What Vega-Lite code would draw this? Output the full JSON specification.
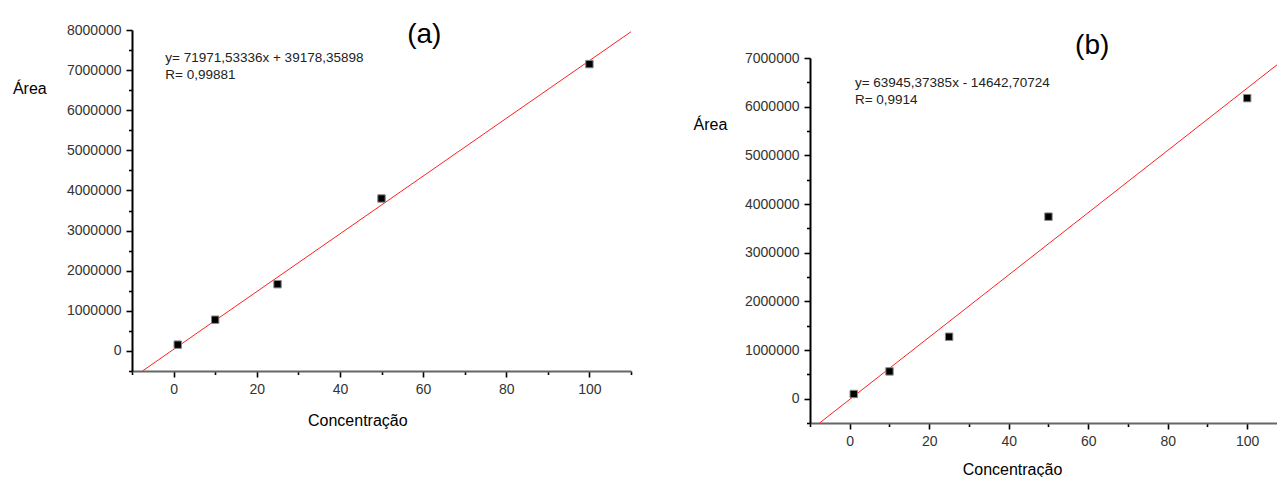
{
  "$schema": "https://vega.github.io/schema/vega-lite/v6.json",
  "padding": {"left": 12, "top": 20, "right": 0, "bottom": 0},
  "config": {
    "view": {"stroke": null},
    "font": "Liberation Sans",
    "axis": {
      "grid": false,
      "labelFont": "Liberation Sans",
      "labelFontSize": 14,
      "labelColor": "#333333",
      "labelPadding": 5,
      "labelFlush": false,
      "labelOverlap": false,
      "titleFont": "Liberation Sans",
      "titleFontSize": 16,
      "titleFontWeight": "normal",
      "titleColor": "#000000",
      "tickColor": "#000000",
      "tickWidth": 1.6,
      "domainWidth": 2
    }
  },
  "datasets": {
    "ptsA": [
      {"conc": 1, "area": 157000},
      {"conc": 10, "area": 779000},
      {"conc": 25, "area": 1664000},
      {"conc": 50, "area": 3800000},
      {"conc": 100, "area": 7150000}
    ],
    "fitA": [
      {"conc": -7.49, "area": -500000},
      {"conc": 110, "area": 7956000}
    ],
    "txtA": [
      {"conc": -2, "area": 7300000, "label": "y= 71971,53336x + 39178,35898"},
      {"conc": -2, "area": 6880000, "label": "R= 0,99881"}
    ],
    "tagA": [
      {"conc": 60.3, "area": 7876000, "label": "(a)"}
    ],
    "ptsB": [
      {"conc": 1, "area": 96000},
      {"conc": 10, "area": 560000},
      {"conc": 25, "area": 1273000},
      {"conc": 50, "area": 3740000},
      {"conc": 100, "area": 6175000}
    ],
    "fitB": [
      {"conc": -7.59, "area": -500000},
      {"conc": 107.5, "area": 6859500}
    ],
    "txtB": [
      {"conc": 1.3, "area": 6495000, "label": "y= 63945,37385x - 14642,70724"},
      {"conc": 1.3, "area": 6140000, "label": "R= 0,9914"}
    ],
    "tagB": [
      {"conc": 61, "area": 7250000, "label": "(b)"}
    ],
    "spacer": [{}]
  },
  "hconcat": [
    {
      "width": 499,
      "height": 341,
      "encoding": {
        "x": {
          "field": "conc", "type": "quantitative",
          "scale": {"domain": [-10, 110], "nice": false, "zero": false},
          "axis": {
            "values": [-10, 0, 10, 20, 30, 40, 50, 60, 70, 80, 90, 100, 110],
            "labelExpr": "datum.value % 20 === 0 ? datum.label : ''",
            "tickSize": {"condition": {"test": "datum.value % 20 === 0", "value": 6}, "value": 3.5},
            "domainColor": "#666666",
            "title": "Concentração",
            "titleX": 225.3, "titleY": 49,
            "titleAlign": "center", "titleBaseline": "middle"
          }
        },
        "y": {
          "field": "area", "type": "quantitative",
          "scale": {"domain": [-500000, 8000000], "nice": false, "zero": false},
          "axis": {
            "values": [-500000, 0, 500000, 1000000, 1500000, 2000000, 2500000, 3000000, 3500000, 4000000, 4500000, 5000000, 5500000, 6000000, 6500000, 7000000, 7500000, 8000000],
            "format": "d",
            "labelExpr": "datum.value % 1000000 === 0 ? datum.label : ''",
            "tickSize": {"condition": {"test": "datum.value % 1000000 === 0", "value": 6}, "value": 3.5},
            "domainColor": "#000000",
            "title": "Área",
            "titleAngle": 0,
            "titleX": -102.7, "titleY": 58.7,
            "titleAlign": "center", "titleBaseline": "middle"
          }
        }
      },
      "layer": [
        {"data": {"name": "fitA"}, "mark": {"type": "line", "color": "#ff2020", "strokeWidth": 1}},
        {"data": {"name": "ptsA"}, "mark": {"type": "square", "size": 55, "filled": true, "fill": "#000000", "stroke": "#8a8a8a", "strokeWidth": 1, "opacity": 1}},
        {"data": {"name": "txtA"}, "mark": {"type": "text", "align": "left", "baseline": "middle", "fontSize": 13.5, "font": "Liberation Sans", "color": "#222222"}, "encoding": {"text": {"field": "label"}}},
        {"data": {"name": "tagA"}, "mark": {"type": "text", "align": "center", "baseline": "middle", "fontSize": 28, "font": "Liberation Sans", "color": "#000000"}, "encoding": {"text": {"field": "label"}}}
      ]
    },
    {
      "spacing": 20,
      "bounds": "flush",
      "vconcat": [
        {
          "width": 467,
          "height": 7.7,
          "data": {"name": "spacer"},
          "mark": {"type": "text", "opacity": 0},
          "encoding": {}
        },
        {
          "width": 467,
          "height": 365,
          "encoding": {
            "x": {
              "field": "conc", "type": "quantitative",
              "scale": {"domain": [-10, 107.5], "nice": false, "zero": false},
              "axis": {
                "values": [-10, 0, 10, 20, 30, 40, 50, 60, 70, 80, 90, 100],
                "labelExpr": "datum.value % 20 === 0 ? datum.label : ''",
                "tickSize": {"condition": {"test": "datum.value % 20 === 0", "value": 6}, "value": 3.5},
                "domainColor": "#666666",
                "title": "Concentração",
                "titleX": 202, "titleY": 46,
                "titleAlign": "center", "titleBaseline": "middle"
              }
            },
            "y": {
              "field": "area", "type": "quantitative",
              "scale": {"domain": [-500000, 7000000], "nice": false, "zero": false},
              "axis": {
                "values": [-500000, 0, 500000, 1000000, 1500000, 2000000, 2500000, 3000000, 3500000, 4000000, 4500000, 5000000, 5500000, 6000000, 6500000, 7000000],
                "format": "d",
                "labelExpr": "datum.value % 1000000 === 0 ? datum.label : ''",
                "tickSize": {"condition": {"test": "datum.value % 1000000 === 0", "value": 6}, "value": 3.5},
                "domainColor": "#000000",
                "title": "Área",
                "titleAngle": 0,
                "titleX": -100, "titleY": 66,
                "titleAlign": "center", "titleBaseline": "middle"
              }
            }
          },
          "layer": [
            {"data": {"name": "fitB"}, "mark": {"type": "line", "color": "#ff2020", "strokeWidth": 1}},
            {"data": {"name": "ptsB"}, "mark": {"type": "square", "size": 55, "filled": true, "fill": "#000000", "stroke": "#8a8a8a", "strokeWidth": 1, "opacity": 1}},
            {"data": {"name": "txtB"}, "mark": {"type": "text", "align": "left", "baseline": "middle", "fontSize": 13.5, "font": "Liberation Sans", "color": "#222222"}, "encoding": {"text": {"field": "label"}}},
            {"data": {"name": "tagB"}, "mark": {"type": "text", "align": "center", "baseline": "middle", "fontSize": 28, "font": "Liberation Sans", "color": "#000000"}, "encoding": {"text": {"field": "label"}}}
          ]
        }
      ]
    }
  ],
  "spacing": 179,
  "bounds": "flush"
}
